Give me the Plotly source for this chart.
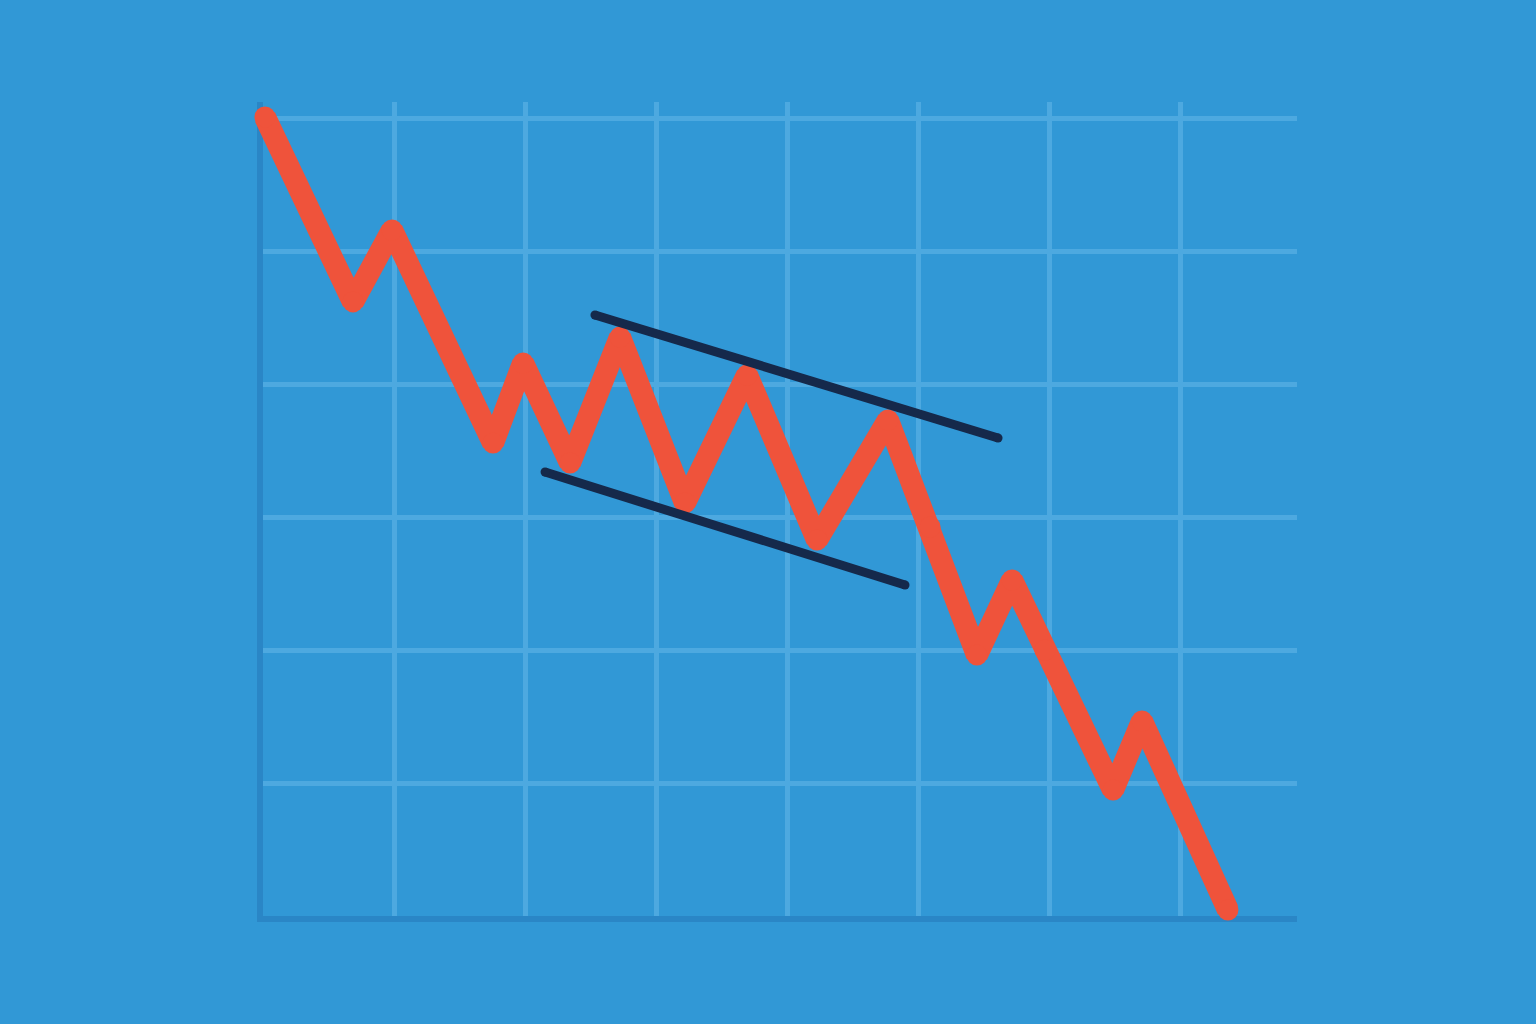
import plotly.graph_objects as go

# Price path (x = time in grid units, y = price in grid units)
price_x = [0.015, 0.687, 0.985, 1.756, 1.985, 2.344, 2.725, 3.221, 3.695, 4.229,
           4.771, 5.092, 5.450, 5.718, 5.969, 6.489, 6.710, 7.366]
price_y = [6.008, 4.617, 5.158, 3.556, 4.158, 3.406, 4.353, 3.105, 4.068, 2.827,
           3.729, 2.925, 1.962, 2.526, 2.000, 0.947, 1.466, 0.045]

# Flag channel trend lines
upper_x = [2.534, 5.611]
upper_y = [4.519, 3.594]
lower_x = [2.153, 4.901]
lower_y = [3.338, 2.489]

BG = "#3198D6"
GRID = "#4DA9E0"
AXIS = "#2A86C6"
RED = "#EF533B"
NAVY = "#15294B"

W, H = 1536, 1024
# grid plot area in pixels and pixel size of one grid unit
PL, PR, PT, PB = 263, 1297, 102, 916
UX, UY = 131.0, 133.0

fig = go.Figure()
# empty trace so the grid subplot (x/y) is created
fig.add_trace(go.Scatter(x=[], y=[], xaxis="x", yaxis="y", mode="lines",
                         hoverinfo="skip", showlegend=False))
fig.add_trace(go.Scatter(x=price_x, y=price_y, mode="lines+markers",
                         xaxis="x2", yaxis="y2",
                         line=dict(color=RED, width=22),
                         marker=dict(color=RED, size=21, line=dict(width=0)),
                         hoverinfo="skip", showlegend=False))
for xs, ys in [(upper_x, upper_y), (lower_x, lower_y)]:
    fig.add_trace(go.Scatter(x=xs, y=ys, mode="lines+markers",
                             xaxis="x2", yaxis="y2",
                             line=dict(color=NAVY, width=9),
                             marker=dict(color=NAVY, size=9, line=dict(width=0)),
                             hoverinfo="skip", showlegend=False))

grid_axis = dict(dtick=1, tick0=0, showgrid=True, gridcolor=GRID, gridwidth=5,
                 zeroline=False, showticklabels=False, ticks="",
                 showline=True, linecolor=AXIS, linewidth=6, fixedrange=True)
data_axis = dict(showgrid=False, zeroline=False, showticklabels=False, ticks="",
                 showline=False, fixedrange=True, domain=[0, 1])

fig.update_layout(
    width=W, height=H,
    paper_bgcolor=BG, plot_bgcolor="rgba(0,0,0,0)",
    margin=dict(l=0, r=0, t=0, b=0),
    xaxis=dict(grid_axis, range=[0, (PR - PL) / UX], domain=[PL / W, PR / W],
               anchor="y"),
    yaxis=dict(grid_axis, range=[0, (PB - PT) / UY],
               domain=[(H - PB) / H, (H - PT) / H], anchor="x"),
    xaxis2=dict(data_axis, range=[-PL / UX, (W - PL) / UX], anchor="y2"),
    yaxis2=dict(data_axis, range=[-(H - PB) / UY, PB / UY], anchor="x2"),
)
fig.write_html("out.html", config={"displayModeBar": False},
               post_script="document.body.style.margin='0';document.body.style.background='" + BG + "';")
